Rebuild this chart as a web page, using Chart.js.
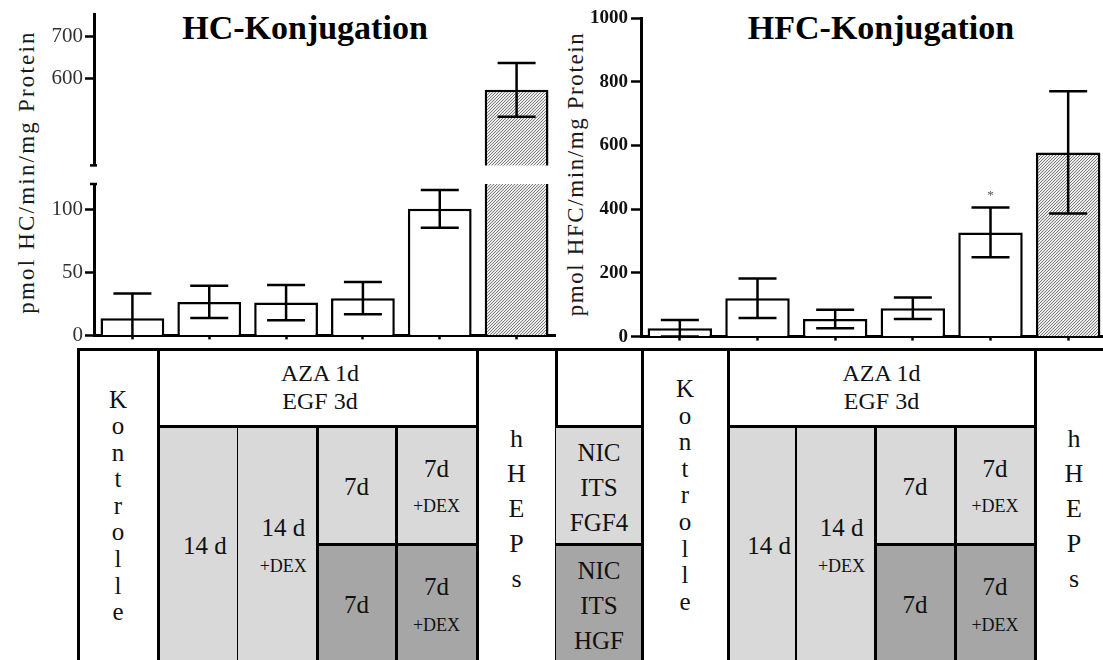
<!DOCTYPE html>
<html>
<head>
<meta charset="utf-8">
<script src="https://cdn.jsdelivr.net/npm/chart.js@4/dist/chart.umd.min.js"></script>
<style>
  html, body { margin: 0; padding: 0; background: #fff; overflow: hidden; }
  body { width: 1103px; height: 660px; position: relative; font-family: 'Liberation Serif', 'Times New Roman', serif; color: #111; }
  canvas { position: absolute; }
  .t { position: absolute; transform: translate(-50%, -50%); text-align: center; white-space: nowrap; }
  .title { position: absolute; transform: translateX(-50%); font-weight: bold; font-size: 34px; line-height: 34px; white-space: nowrap; color: #000; }
  .ytitle { position: absolute; transform: translate(-50%, -50%) rotate(-90deg); font-size: 23px; white-space: nowrap; color: #1a1a1a; }
  .cell { position: absolute; }
  .ln { position: absolute; background: #000; }
</style>
</head>
<body>

<div class="title" style="left:305px; top:11px;">HC-Konjugation</div>
<div class="title" style="left:881px; top:11px;">HFC-Konjugation</div>
<div class="ytitle" style="left:27px; top:172px; letter-spacing:2.2px;">pmol HC/min/mg Protein</div>
<div class="ytitle" style="left:576px; top:174px; letter-spacing:1.6px;">pmol HFC/min/mg Protein</div>

<canvas id="hcHigh" width="560" height="180" style="left:0; top:0;"></canvas>
<canvas id="hcLow" width="560" height="350" style="left:0; top:0;"></canvas>
<canvas id="hfc" width="560" height="351" style="left:560px; top:0;"></canvas>

<div id="table"></div>

<script>
// Groups along the x axis (described by the table underneath the plots)
const categories = ['Kontrolle', 'AZA/EGF 14 d', 'AZA/EGF 14 d +DEX', 'AZA/EGF 7d', 'AZA/EGF 7d +DEX', 'hHEPs'];

// HC conjugation, pmol HC/min/mg protein (mean and SD)
const hcMeans  = [13.5, 26.5, 26, 29.5, 100.3, 573];
const hcErrors = [19.7, 12.8, 14, 12.8, 15, 64];

// HFC conjugation, pmol HFC/min/mg protein (mean and SD)
const hfcMeans  = [26, 120, 55, 89, 327, 578];
const hfcErrors = [26, 62, 29, 34, 78, 192];
const hfcSignificance = ['', '', '', '', '*', ''];

// Axis ticks (the HC axis is broken into a lower and an upper segment)
const hcTicksLow  = [0, 50, 100];
const hcTicksHigh = [600, 700];
const hfcTicks    = [0, 200, 400, 600, 800, 1000];

const SERIF = "'Liberation Serif', 'Times New Roman', serif";
Chart.defaults.font.family = SERIF;
Chart.defaults.animation = false;

function makeHatch() {
  const c = document.createElement('canvas');
  c.width = 3; c.height = 3;
  const g = c.getContext('2d');
  g.fillStyle = '#ececec';
  g.fillRect(0, 0, 3, 3);
  g.fillStyle = '#7c7c7c';
  for (let x = 0; x < 3; x++) g.fillRect(x, 2 - x, 1, 1);
  return g.createPattern(c, 'repeat');
}
const hatch = makeHatch();
const barFills = categories.map(c => c === 'hHEPs' ? hatch : '#ffffff');

// Mean ± SD whiskers, clipped to the plotting area
const errorBars = {
  id: 'errorBars',
  afterDatasetsDraw(chart, args, opts) {
    const { ctx, chartArea } = chart;
    const meta = chart.getDatasetMeta(0);
    const ys = chart.scales.y;
    const data = chart.data.datasets[0].data;
    ctx.save();
    ctx.beginPath();
    ctx.rect(chartArea.left, chartArea.top, chartArea.right - chartArea.left, chartArea.bottom - chartArea.top);
    ctx.clip();
    ctx.strokeStyle = '#000';
    ctx.lineWidth = 2.5;
    meta.data.forEach((bar, i) => {
      const v = data[i], e = opts.errors[i];
      const hi = ys.getPixelForValue(v + e), lo = ys.getPixelForValue(v - e);
      const half = opts.capWidth / 2;
      ctx.beginPath();
      ctx.moveTo(bar.x, hi); ctx.lineTo(bar.x, lo);
      ctx.moveTo(bar.x - half, hi); ctx.lineTo(bar.x + half, hi);
      ctx.moveTo(bar.x - half, lo); ctx.lineTo(bar.x + half, lo);
      ctx.stroke();
    });
    ctx.restore();
    if (opts.marks) {
      ctx.save();
      ctx.fillStyle = '#555';
      ctx.font = '13px ' + SERIF;
      ctx.textAlign = 'center';
      ctx.textBaseline = 'middle';
      meta.data.forEach((bar, i) => {
        if (!opts.marks[i]) return;
        const hi = ys.getPixelForValue(data[i] + opts.errors[i]);
        ctx.fillText(opts.marks[i], bar.x, hi - 12);
      });
      ctx.restore();
    }
  }
};

// Short end marks where the HC axis is broken
const axisBreak = {
  id: 'axisBreak',
  afterDraw(chart, args, opts) {
    if (!opts.ends) return;
    const { ctx, chartArea } = chart;
    ctx.save();
    ctx.strokeStyle = '#000';
    ctx.lineWidth = 2.5;
    opts.ends.forEach(end => {
      const y = end === 'top' ? chartArea.top : chartArea.bottom;
      ctx.beginPath();
      ctx.moveTo(chartArea.left - 4, y);
      ctx.lineTo(chartArea.left + 3, y);
      ctx.stroke();
    });
    ctx.restore();
  }
};

function buildChart(id, cfg) {
  const yOpts = {
    min: cfg.min, max: cfg.max,
    afterBuildTicks: s => { s.ticks = cfg.ticks.map(v => ({ value: v })); },
    afterFit: s => { s.width = cfg.yWidth; },
    grid: { display: true, drawOnChartArea: false, drawTicks: true, tickLength: cfg.tickLength, tickWidth: 2.5, tickColor: '#000' },
    border: { display: true, width: 3, color: '#000' },
    ticks: { font: cfg.tickFont, color: cfg.tickColor, padding: cfg.tickPadding, callback: v => String(v) }
  };
  const xOpts = cfg.showX ? {
    afterFit: s => { s.height = 9; },
    grid: { display: true, drawOnChartArea: false, drawTicks: true, tickLength: 4, tickWidth: 2.5, tickColor: '#000', offset: false },
    border: { display: true, width: 3, color: '#000' },
    ticks: { display: false }
  } : { display: false };
  return new Chart(document.getElementById(id), {
    type: 'bar',
    data: {
      labels: categories,
      datasets: [{
        data: cfg.means,
        backgroundColor: barFills,
        borderColor: '#000',
        borderWidth: 2.5,
        borderSkipped: 'start',
        barPercentage: 0.83,
        categoryPercentage: 1,
        clip: 0
      }]
    },
    options: {
      responsive: false,
      animation: false,
      layout: { padding: cfg.padding },
      plugins: {
        legend: { display: false },
        tooltip: { enabled: false },
        errorBars: { errors: cfg.errors, capWidth: 38, marks: cfg.marks },
        axisBreak: { ends: cfg.breakEnds }
      },
      scales: { x: xOpts, y: yOpts }
    },
    plugins: [errorBars, axisBreak]
  });
}

const leftTickFont = { family: SERIF, size: 21 };
buildChart('hcHigh', {
  means: hcMeans, errors: hcErrors, min: 393, max: 752, ticks: hcTicksHigh,
  yWidth: 94, tickLength: 9, tickPadding: 2, tickFont: leftTickFont, tickColor: '#333',
  padding: { top: 13, bottom: 9, left: 0, right: 5 }, showX: false, breakEnds: ['bottom']
});
buildChart('hcLow', {
  means: hcMeans, errors: hcErrors, min: 0, max: 120, ticks: hcTicksLow,
  yWidth: 94, tickLength: 9, tickPadding: 2, tickFont: leftTickFont, tickColor: '#333',
  padding: { top: 184, bottom: 0, left: 0, right: 5 }, showX: true, breakEnds: ['top']
});
buildChart('hfc', {
  means: hfcMeans, errors: hfcErrors, min: 0, max: 1000, ticks: hfcTicks,
  yWidth: 81, tickLength: 10, tickPadding: 3, tickFont: { family: SERIF, size: 19, weight: 'bold' }, tickColor: '#111',
  padding: { top: 18, bottom: 0, left: 0, right: 13 }, showX: true, marks: hfcSignificance
});

// Treatment table below the plots
const table = document.getElementById('table');
const LIGHT = '#d9d9d9', DARK = '#a6a6a6';
const TOP = 349, MID = 426, SPLIT = 544, BOT = 670;

function rect(x1, y1, x2, y2, fill) {
  const d = document.createElement('div');
  d.className = 'cell';
  Object.assign(d.style, { left: x1 + 'px', top: y1 + 'px', width: (x2 - x1) + 'px', height: (y2 - y1) + 'px', background: fill });
  table.appendChild(d);
}
function hline(x1, x2, y, w = 3) {
  const d = document.createElement('div');
  d.className = 'ln';
  Object.assign(d.style, { left: (x1 - 1.5) + 'px', top: (y - w / 2) + 'px', width: (x2 - x1 + 3) + 'px', height: w + 'px' });
  table.appendChild(d);
}
function vline(x, y1, y2, w = 3) {
  const d = document.createElement('div');
  d.className = 'ln';
  Object.assign(d.style, { left: (x - w / 2) + 'px', top: (y1 - 1.5) + 'px', width: w + 'px', height: (y2 - y1 + 3) + 'px' });
  table.appendChild(d);
}
function text(cx, cy, str, size, lh) {
  const d = document.createElement('div');
  d.className = 't';
  Object.assign(d.style, { left: cx + 'px', top: cy + 'px', fontSize: size + 'px', lineHeight: (lh || size * 1.15) + 'px' });
  d.innerHTML = str;
  table.appendChild(d);
}
const stack = s => s.split('').join('<br>');

// one treatment block: columns [kontrolle, 14d, 14d+dex, 7d, 7d+dex, hheps, end]
function block(c, kTop, aza) {
  rect(c[1], MID, c[3], BOT, LIGHT);
  rect(c[3], MID, c[5], SPLIT, LIGHT);
  rect(c[3], SPLIT, c[5], BOT, DARK);
  hline(c[1], c[5], MID);
  hline(c[3], c[5], SPLIT);
  [c[0], c[1], c[5], c[6]].forEach(x => vline(x, TOP, BOT));
  vline(c[2], MID, BOT, 1.8);
  vline(c[3], MID, BOT);
  vline(c[4], MID, BOT);
  const m = (a, b) => (a + b) / 2;
  text(aza, 387, 'AZA 1d<br>EGF 3d', 24, 28);
  text(m(c[0], c[1]), kTop, stack('Kontrolle'), 25, 26.6);
  text(m(c[1], c[2]) + 7, 546, '14 d', 25);
  text(m(c[2], c[3]) + 6, 528, '14 d', 25);
  text(m(c[2], c[3]) + 6, 566, '+DEX', 18);
  text(m(c[3], c[4]), 487, '7d', 25);
  text(m(c[4], c[5]), 469, '7d', 25);
  text(m(c[4], c[5]), 506, '+DEX', 18);
  text(m(c[3], c[4]), 605, '7d', 25);
  text(m(c[4], c[5]), 587, '7d', 25);
  text(m(c[4], c[5]), 625, '+DEX', 18);
  text(m(c[5], c[6]), 507.5, stack('hHEPs'), 26, 35);
}

block([78, 158, 237.5, 317, 396, 477, 556], 506.5, 320);
// medium legend between the two blocks
rect(556, MID, 642, SPLIT, LIGHT);
rect(556, SPLIT, 642, BOT, DARK);
hline(556, 642, MID);
hline(556, 642, SPLIT);
text(599, 486.7, 'NIC<br>ITS<br>FGF4', 25, 35);
text(599, 604.5, 'NIC<br>ITS<br>HGF', 25, 35);
block([642, 728, 796, 875, 955, 1035, 1113], 496, 881.5);
hline(78, 1113, TOP);
</script>
</body>
</html>
